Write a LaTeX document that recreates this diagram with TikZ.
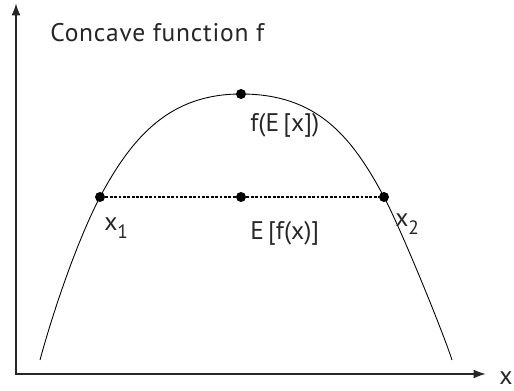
\documentclass[tikz,border=0pt]{standalone}
\usepackage{fontspec}
\setmainfont{PT Sans}
\usetikzlibrary{arrows.meta}

\newcommand{\lowsub}[1]{\raisebox{-4.5pt}{\fontsize{11}{13}\selectfont #1}}

\begin{document}
\begin{tikzpicture}[x=0.02cm, y=-0.02cm, every node/.style={font=\fontsize{14.5}{16}\selectfont, inner sep=0pt, text=black!85}]
\tikzset{blob/.style={circle,fill=black,minimum size=0.2cm,inner sep=0pt},
  axis/.style={line width=1.1pt,draw=black!85,{Latex[length=7pt,width=5pt]}-{Latex[length=7pt,width=5pt]}}}
\useasboundingbox (0,0) rectangle (514,391);
% axes
\coordinate (ytop) at (16,3);
\coordinate (o) at (16,374);
\coordinate (xend) at (486,374);
\draw[axis] (ytop) -- (o) -- (xend);
% points
\node[blob] (x1) at (100,197) {};
\node[blob] (mid) at (241,197) {};
\node[blob] (x2) at (384,197) {};
\node[blob] (top) at (241,94) {};
% concave curve
\coordinate (left) at (40,360);
\coordinate (right) at (452,360);
\draw[line width=0.5pt] (left) .. controls (53,312) and (77,241) .. (x1.center)
  .. controls (133,135) and (171,94) .. (top.center)
  .. controls (316,94) and (351,135) .. (x2.center)
  .. controls (401,229) and (443,332) .. (right);
\draw[line width=0.7pt, dash pattern=on 1.6pt off 0.9pt] (x1) -- (mid);
\draw[line width=0.7pt, dash pattern=on 1.6pt off 0.9pt] (mid) -- (x2);
% labels
\node[anchor=base west] (title) at (50,42) {\addfontfeatures{LetterSpace=3}Concave function f};
\node[anchor=base west] (fEx) at (250,132) {f(E\,[x])};
\node[anchor=base west] (Efx) at (250,240) {E\,[f(x)]};
\node[anchor=base west] (lx1) at (104,231) {x\lowsub{1}};
\node[anchor=base west] (lx2) at (395,227) {x\lowsub{2}};
\node[anchor=base west] (xlab) at (499,385) {x};
\end{tikzpicture}
\end{document}
